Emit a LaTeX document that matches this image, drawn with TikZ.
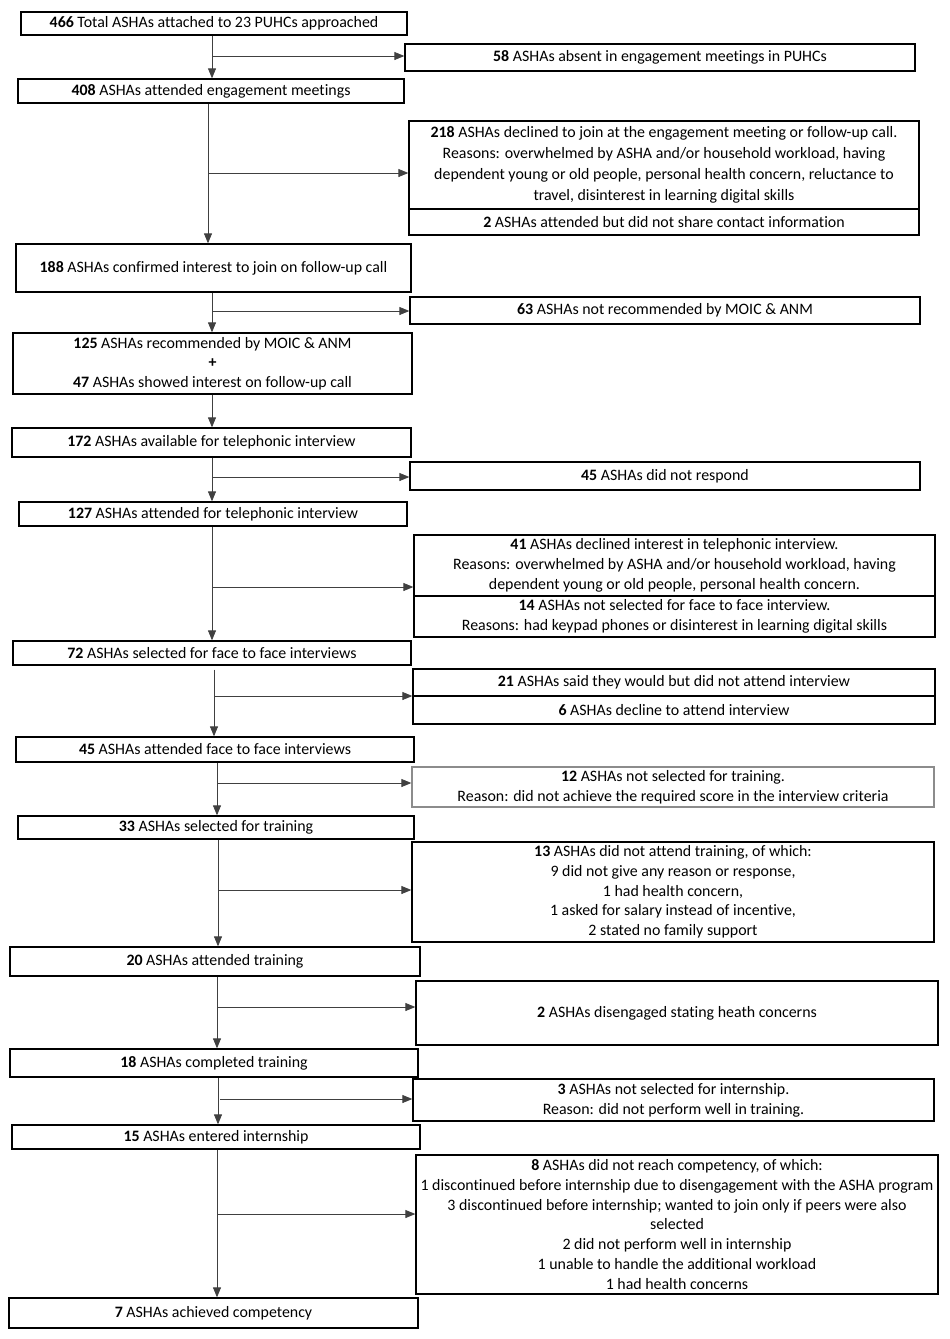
\documentclass[tikz,border=0pt]{standalone}
\usepackage{fontspec}
\setmainfont[Ligatures=NoCommon]{Carlito}
\usetikzlibrary{arrows.meta}

\tikzset{
  box/.style={draw=black, line width=1.3pt, inner sep=0pt, align=center,
    font=\fontsize{15.9}{19.7}\selectfont},
  palebox/.style={box, draw=black!45},
  flow/.style={draw=black!75, line width=0.9pt, -{Triangle[length=10pt,width=8pt]}},
}

\begin{document}
\begin{tikzpicture}[x=1pt,y=-1pt]
    \useasboundingbox (0,0) rectangle (950,1339);

    % Main column (participants retained)
    \node[box, minimum width=386pt, minimum height=23pt] (n466) at (214,23.5) {\textbf{466} Total ASHAs attached to 23 PUHCs approached};
    \node[box, minimum width=386pt, minimum height=24pt] (n408) at (211,91) {\textbf{408} ASHAs attended engagement meetings};
    \node[box, minimum width=395pt, minimum height=48pt] (n188) at (213.5,268) {\textbf{188} ASHAs confirmed interest to join on follow-up call};
    \node[box, minimum width=399pt, minimum height=61pt] (n125) at (212.5,363.5) {\textbf{125} ASHAs recommended by MOIC \& ANM\\ \textbf{+}\\ \textbf{47} ASHAs showed interest on follow-up call};
    \node[box, minimum width=399pt, minimum height=29pt] (n172) at (211.5,442.5) {\textbf{172} ASHAs available for telephonic interview};
    \node[box, minimum width=388pt, minimum height=24pt] (n127) at (213,514) {\textbf{127} ASHAs attended for telephonic interview};
    \node[box, minimum width=398pt, minimum height=24pt] (n72) at (212,653) {\textbf{72} ASHAs selected for face to face interviews};
    \node[box, minimum width=398pt, minimum height=25pt] (n45a) at (215,749.5) {\textbf{45} ASHAs attended face to face interviews};
    \node[box, minimum width=396pt, minimum height=23pt] (n33) at (216,827.5) {\textbf{33} ASHAs selected for training};
    \node[box, minimum width=410pt, minimum height=29pt] (n20) at (215,961.5) {\textbf{20} ASHAs attended training};
    \node[box, minimum width=408pt, minimum height=28pt] (n18) at (214,1063) {\textbf{18} ASHAs completed training};
    \node[box, minimum width=408pt, minimum height=24pt] (n15) at (216,1137) {\textbf{15} ASHAs entered internship};
    \node[box, minimum width=409pt, minimum height=30pt] (n7) at (213.5,1313) {\textbf{7} ASHAs achieved competency};

    % Side column (participants lost)
    \node[box, minimum width=510pt, minimum height=27pt] (n58) at (660,57.5) {\textbf{58} ASHAs absent in engagement meetings in PUHCs};
    \node[box, minimum width=510pt, minimum height=88pt, font=\fontsize{15.9}{20.8}\selectfont] (n218) at (664,165) {\textbf{218} ASHAs declined to join at the engagement meeting or follow-up call.\\ Reasons: overwhelmed by ASHA and/or household workload, having\\ dependent young or old people, personal health concern, reluctance to\\ travel, disinterest in learning digital skills};
    \node[box, minimum width=510pt, minimum height=26pt] (n2c) at (664,222) {\textbf{2} ASHAs attended but did not share contact information};
    \node[box, minimum width=510pt, minimum height=27pt] (n63) at (665,310.5) {\textbf{63} ASHAs not recommended by MOIC \& ANM};
    \node[box, minimum width=510pt, minimum height=28pt] (n45r) at (665,476) {\textbf{45} ASHAs did not respond};
    \node[box, minimum width=521pt, minimum height=61pt] (n41) at (674.5,565.5) {\textbf{41} ASHAs declined interest in telephonic interview.\\ Reasons: overwhelmed by ASHA and/or household workload, having\\ dependent young or old people, personal health concern.};
    \node[box, minimum width=521pt, minimum height=41pt] (n14) at (674.5,616.5) {\textbf{14} ASHAs not selected for face to face interview.\\ Reasons: had keypad phones or disinterest in learning digital skills};
    \node[box, minimum width=522pt, minimum height=27pt] (n21) at (674,682.5) {\textbf{21} ASHAs said they would but did not attend interview};
    \node[box, minimum width=522pt, minimum height=28pt] (n6) at (674,710) {\textbf{6} ASHAs decline to attend interview};
    \node[palebox, minimum width=522pt, minimum height=40pt] (n12) at (673,787) {\textbf{12} ASHAs not selected for training.\\ Reason: did not achieve the required score in the interview criteria};
    \node[box, minimum width=522pt, minimum height=100pt] (n13) at (673,892) {\textbf{13} ASHAs did not attend training, of which:\\ 9 did not give any reason or response,\\ 1 had health concern,\\ 1 asked for salary instead of incentive,\\ 2 stated no family support};
    \node[box, minimum width=522pt, minimum height=64pt] (n2d) at (677,1013) {\textbf{2} ASHAs disengaged stating heath concerns};
    \node[box, minimum width=521pt, minimum height=42pt] (n3) at (673.5,1100) {\textbf{3} ASHAs not selected for internship.\\ Reason: did not perform well in training.};
    \node[box, minimum width=522pt, minimum height=139pt] (n8) at (677,1224.5) {\textbf{8} ASHAs did not reach competency, of which:\\ 1 discontinued before internship due to disengagement with the ASHA program\\ 3 discontinued before internship; wanted to join only if peers were also\\ selected\\ 2 did not perform well in internship\\ 1 unable to handle the additional workload\\ 1 had health concerns};

    % Branch points on the downward lines
    \coordinate (j1) at (212,56);
    \coordinate (j2) at (208,173);
    \coordinate (j3) at (212,311);
    \coordinate (j4) at (212,440);
    \coordinate (j5) at (212,477);
    \coordinate (j6) at (212,587);
    \coordinate (j7) at (214,696);
    \coordinate (j8) at (217,783);
    \coordinate (j9) at (218,890);
    \coordinate (j10) at (217,1007);
    \coordinate (j11) at (218,1099);
    \coordinate (j12) at (217,1214);

    % Downward flow
    \draw[flow] (n466.south -| j1) -- (n408.north -| j1);
    \draw[flow] (n408.south -| j2) -- (n188.north -| j2);
    \draw[flow] (n188.south -| j3) -- (n125.north -| j3);
    \draw[flow] (n125.south -| j4) -- (n172.north -| j4);
    \draw[flow] (n172.south -| j5) -- (n127.north -| j5);
    \draw[flow] (n127.south -| j6) -- (n72.north -| j6);
    \draw[flow] ([yshift=-4pt]n72.south -| j7) -- (n45a.north -| j7);
    \draw[flow] (n45a.south -| j8) -- (n33.north -| j8);
    \draw[flow] (n33.south -| j9) -- (n20.north -| j9);
    \draw[flow] (n20.south -| j10) -- (n18.north -| j10);
    \draw[flow] (n18.south -| j11) -- (n15.north -| j11);
    \draw[flow] (n15.south -| j12) -- (n7.north -| j12);

    % Exclusions
    \draw[flow] (j1) -- (j1 -| n58.west);
    \draw[flow] (j2) -- (j2 -| n218.west);
    \draw[flow] (j3) -- (j3 -| n63.west);
    \draw[flow] (j5) -- (j5 -| n45r.west);
    \draw[flow] (j6) -- (j6 -| n41.west);
    \draw[flow] (j7) -- (j7 -| n21.west);
    \draw[flow] (j8) -- (j8 -| n12.west);
    \draw[flow] (j9) -- (j9 -| n13.west);
    \draw[flow] (j10) -- (j10 -| n2d.west);
    \draw[flow] ([xshift=2pt]j11) -- (j11 -| n3.west);
    \draw[flow] (j12) -- (j12 -| n8.west);
\end{tikzpicture}
\end{document}
